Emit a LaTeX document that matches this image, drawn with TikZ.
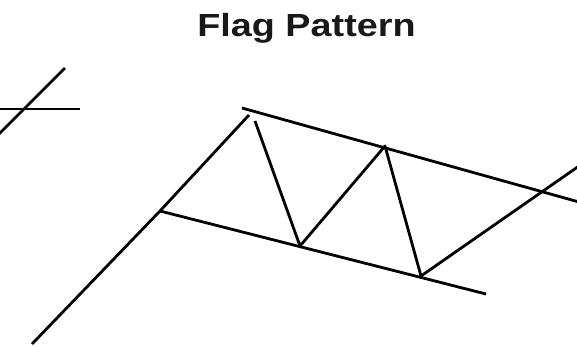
\documentclass[tikz,border=0pt]{standalone}
\usepackage{fontspec}
\setmainfont{Liberation Sans}
\begin{document}
\begin{tikzpicture}[x=1pt,y=-1pt,
  stroke/.style={line width=2.8pt,black,line cap=butt},
  title/.style={font=\bfseries\fontsize{32}{37}\selectfont,xscale=1.18,inner sep=0pt,anchor=base,text=black!90}]
\useasboundingbox (0,0) rectangle (577,346);
\node[title] (t) at (306.5,36) {Flag Pattern};
% left fragment
\coordinate (la) at (65,68);
\coordinate (lb) at (-2,135);
\coordinate (lc) at (-2,109);
\coordinate (ld) at (80,109);
\draw[stroke] (la) -- (lb);
\draw[stroke] (lc) -- (ld);
% pole
\coordinate (p0) at (32,344);
\coordinate (pj) at (160,211);
\coordinate (p1) at (249,115);
\draw[stroke] (p0) -- (pj) -- (p1);
% flag channel
\coordinate (u0) at (242,108);
\coordinate (u1) at (579,202);
\coordinate (l1) at (486,294);
\draw[stroke] (u0) -- (u1);
\draw[stroke] (pj) -- (l1);
% zigzag
\coordinate (z0) at (255,121);
\coordinate (z1) at (300,246);
\coordinate (z2) at (385,146);
\coordinate (z3) at (421,276);
\coordinate (z4) at (579,166);
\draw[stroke,line join=round] (z0) -- (z1) -- (z2) -- (z3) -- (z4);
\end{tikzpicture}
\end{document}
